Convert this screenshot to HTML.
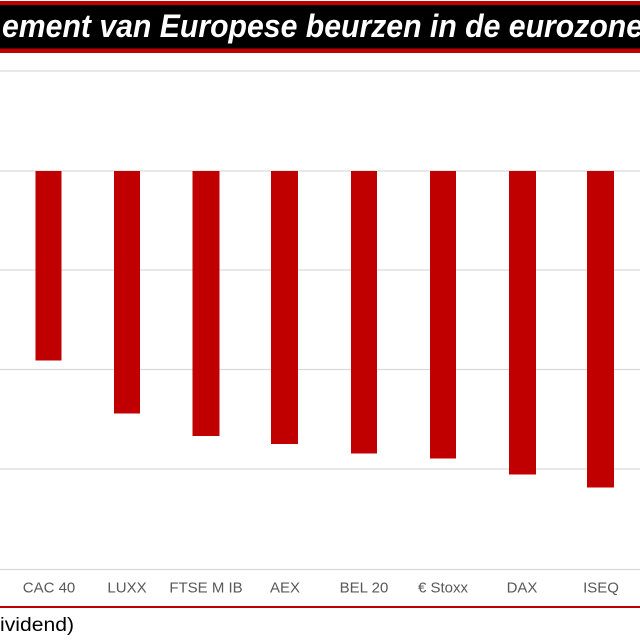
<!DOCTYPE html>
<html>
<head>
<meta charset="utf-8">
<style>
html,body{margin:0;padding:0;background:#fff;}
svg{display:block;}
</style>
</head>
<body>
<svg width="640" height="640" viewBox="0 0 640 640" xmlns="http://www.w3.org/2000/svg">
  <rect x="0" y="0" width="640" height="640" fill="#fff"/>
  <!-- header -->
  <rect x="0" y="1" width="640" height="4" fill="#c00000"/>
  <rect x="0" y="5" width="640" height="43.5" fill="#000"/>
  <rect x="0" y="48.5" width="640" height="4.5" fill="#c00000"/>
  <text x="2" y="37" font-family="Liberation Sans, sans-serif" font-size="32" font-weight="bold" font-style="italic" fill="#fff" textLength="641" lengthAdjust="spacingAndGlyphs">ement van Europese beurzen in de eurozone</text>

  <!-- gridlines -->
  <g stroke="#d9d9d9" stroke-width="1.2">
    <line x1="0" y1="71" x2="640" y2="71"/>
    <line x1="0" y1="171" x2="640" y2="171"/>
    <line x1="0" y1="270" x2="640" y2="270"/>
    <line x1="0" y1="369.5" x2="640" y2="369.5"/>
    <line x1="0" y1="469" x2="640" y2="469"/>
    <line x1="0" y1="569.5" x2="640" y2="569.5"/>
  </g>

  <!-- bars -->
  <g fill="#c00000">
    <rect x="35.5" y="171" width="26" height="189.5"/>
    <rect x="114" y="171" width="26" height="242.5"/>
    <rect x="192.5" y="171" width="27" height="265"/>
    <rect x="271" y="171" width="27" height="273"/>
    <rect x="351" y="171" width="26" height="282.5"/>
    <rect x="430" y="171" width="26" height="287.5"/>
    <rect x="509" y="171" width="27" height="303.5"/>
    <rect x="587" y="171" width="27" height="316.5"/>
  </g>

  <!-- category labels -->
  <g font-family="Liberation Sans, sans-serif" font-size="15" fill="#595959" text-anchor="middle">
    <text x="49" y="592.5">CAC 40</text>
    <text x="127" y="592.5">LUXX</text>
    <text x="206" y="592.5">FTSE M IB</text>
    <text x="285" y="592.5">AEX</text>
    <text x="364" y="592.5">BEL 20</text>
    <text x="443" y="592.5">€ Stoxx</text>
    <text x="522" y="592.5">DAX</text>
    <text x="601" y="592.5">ISEQ</text>
  </g>

  <!-- bottom red line -->
  <rect x="0" y="606" width="640" height="2" fill="#c00000"/>

  <text x="0" y="631" font-family="Liberation Sans, sans-serif" font-size="19" fill="#000" textLength="74" lengthAdjust="spacingAndGlyphs">ividend)</text>
</svg>
</body>
</html>
